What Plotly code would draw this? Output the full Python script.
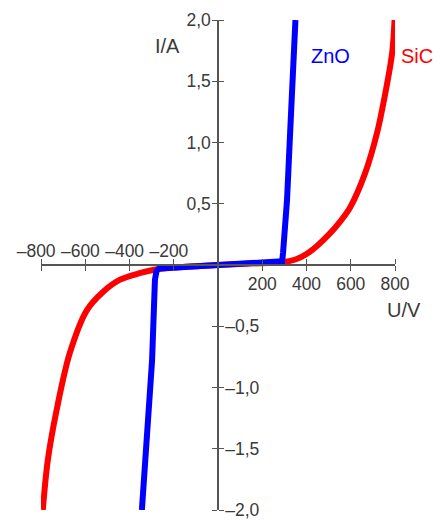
import plotly.graph_objects as go

# ---- data ----
zno_u = [-344, -330, -298, -285, -278, -265, -150, 0, 150, 280, 290, 294, 312, 326, 339, 350]
zno_i = [-2.0, -1.59, -0.78, -0.12, -0.05, -0.028, -0.015, 0.0, 0.012, 0.022, 0.03, 0.1, 0.53, 1.08, 1.62, 2.0]

sic_u = [-792, -769, -729, -670, -593, -520, -443, -350, -276, -150, 0, 150, 285, 350, 400, 450, 507, 550, 597, 665, 719, 756, 787, 798]
sic_i = [-2.0, -1.59, -1.18, -0.72, -0.37, -0.22, -0.12, -0.065, -0.035, -0.015, 0.0, 0.012, 0.022, 0.045, 0.09, 0.16, 0.26, 0.35, 0.47, 0.75, 1.08, 1.40, 1.73, 2.0]

x_ticks = [-800, -600, -400, -200, 200, 400, 600, 800]
y_ticks = [-2.0, -1.5, -1.0, -0.5, 0.5, 1.0, 1.5, 2.0]

DASH = "\u2013"
PAD = "\u2007"

def fmt_x(v):
    return (DASH + str(abs(v)) + PAD) if v < 0 else str(v)

def fmt_y(v):
    s = f"{abs(v):.1f}".replace(".", ",")
    return (DASH + s) if v < 0 else s

x_pos_text = [fmt_x(v) if v > 0 else "" for v in x_ticks]
x_neg_text = [fmt_x(v) if v < 0 else "" for v in x_ticks]
y_pos_text = [fmt_y(v) if v > 0 else "" for v in y_ticks]
y_neg_text = [fmt_y(v) if v < 0 else "" for v in y_ticks]

W, H = 441, 520
AX = "#555555"
FAM = "Liberation Sans, Arial, sans-serif"
FONT = dict(family=FAM, size=17.5, color="#3a3a3a")

fig = go.Figure()
fig.add_trace(go.Scatter(x=sic_u, y=sic_i, mode="lines", line=dict(color="#ff0000", width=6, shape="spline", smoothing=0.9),
                         showlegend=False, hoverinfo="skip"))
fig.add_trace(go.Scatter(x=zno_u, y=zno_i, mode="lines", line=dict(color="#0000ff", width=6),
                         showlegend=False, hoverinfo="skip"))
fig.add_trace(go.Scatter(x=[None], y=[None], xaxis="x2", yaxis="y2", showlegend=False, hoverinfo="skip"))

x_dom = [41 / W, 395 / W]
y_dom = [1 - 510 / H, 1 - 20 / H]
x_zero_frac = 1 - 265 / H
y_zero_frac = 218 / W

common_x = dict(range=[-800, 800], showgrid=False, zeroline=False, showline=True, linecolor=AX, linewidth=1.5,
                ticks="outside", ticklen=5, tickwidth=1.2, tickcolor=AX, tickfont=FONT, tickvals=x_ticks,
                tickangle=0, anchor="free", position=x_zero_frac, fixedrange=True, automargin=False,
                ticklabeloverflow="allow")
common_y = dict(range=[-2, 2], showgrid=False, zeroline=False, showline=True, linecolor=AX, linewidth=1.5,
                ticks="outside", ticklen=5, tickwidth=1.2, tickcolor=AX, tickfont=FONT, tickvals=y_ticks,
                tickangle=0, anchor="free", position=y_zero_frac, fixedrange=True, automargin=False,
                ticklabeloverflow="allow")

fig.update_layout(
    width=W, height=H, margin=dict(l=0, r=0, t=0, b=0, autoexpand=False),
    paper_bgcolor="white", plot_bgcolor="white",
    xaxis=dict(domain=x_dom, side="bottom", ticktext=x_pos_text, ticklabelstandoff=-2, **common_x),
    xaxis2=dict(overlaying="x", side="top", ticktext=x_neg_text, ticklabelstandoff=-5, **common_x),
    yaxis=dict(domain=y_dom, side="left", ticktext=y_pos_text, ticklabelstandoff=-2, **common_y),
    yaxis2=dict(overlaying="y", side="right", ticktext=y_neg_text, ticklabelstandoff=-2, **common_y),
    font=FONT,
)

def ann(text, px, py, color="#3a3a3a"):
    fig.add_annotation(text=text, x=px / W, y=1 - py / H, xref="paper", yref="paper", showarrow=False,
                       font=dict(family=FAM, size=20, color=color),
                       xanchor="center", yanchor="middle")

ann("I/A", 167, 46)
ann("U/V", 404, 310)
ann("ZnO", 330, 56, "#0000ff")
ann("SiC", 417, 56, "#ff0000")

fig.write_html("out.html", config={"displayModeBar": False},
               post_script="document.body.style.margin='0';document.body.style.padding='0';")
